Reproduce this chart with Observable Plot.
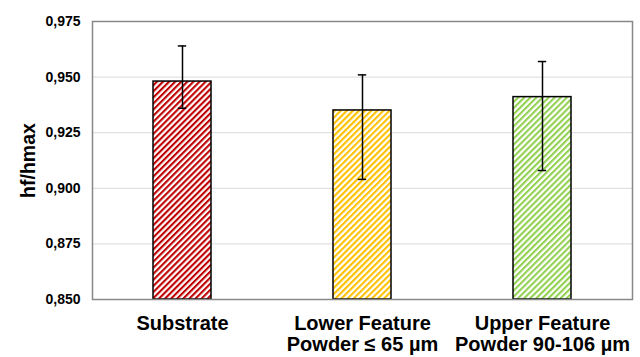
<!DOCTYPE html>
<html><head>
<meta charset="utf-8">
<script src="https://cdn.jsdelivr.net/npm/d3@7"></script>
<script src="https://cdn.jsdelivr.net/npm/@observablehq/plot@0.6"></script>
<style>body{margin:0;background:#fff}</style>
</head><body><div id="chart"></div>
<script>
const categories = ["Substrate", "Lower Feature\nPowder ≤ 65 µm", "Upper Feature\nPowder 90-106 µm"];
const values = [0.948, 0.935, 0.941];
const errLow = [0.936, 0.904, 0.908];
const errHigh = [0.964, 0.951, 0.957];
const colors = ["#C00000", "#FFC000", "#92D050"];
const yTicks = [0.85, 0.875, 0.9, 0.925, 0.95, 0.975];
const yLabel = "hf/hmax";

const data = categories.map((c, i) => ({cat: c, v: values[i], lo: errLow[i], hi: errHigh[i], pat: `url(#hatch${i})`}));

const defs = () => {
  const g = d3.create("svg:defs");
  colors.forEach((col, i) => {
    const p = g.append("pattern").attr("id", `hatch${i}`).attr("patternUnits", "userSpaceOnUse")
      .attr("width", 4.3).attr("height", 10).attr("patternTransform", "rotate(45)");
    p.append("rect").attr("width", 4.3).attr("height", 10).attr("fill", "white");
    p.append("rect").attr("width", 2.1).attr("height", 10).attr("fill", col);
  });
  return g.node();
};

const fmt = d => d3.format(".3f")(d).replace(".", ",");

const chart = Plot.plot({
  width: 640, height: 357,
  marginLeft: 92, marginRight: 8, marginTop: 21, marginBottom: 58,
  style: {fontFamily: "'Liberation Sans', Arial, sans-serif", background: "white", color: "#000"},
  x: {domain: categories, paddingInner: 0.68, paddingOuter: 0.34, label: null},
  y: {domain: [0.85, 0.975], label: null},
  color: {type: "identity"},
  marks: [
    defs,
    Plot.gridY(yTicks, {stroke: "#d9d9d9", strokeOpacity: 1, strokeWidth: 1}),
    Plot.barY(data, {x: "cat", y1: 0.85, y2: "v", fill: "pat", stroke: "#000", strokeWidth: 1.5}),
    Plot.ruleX(data, {x: "cat", y1: "lo", y2: "hi", stroke: "#000", strokeWidth: 1.5}),
    Plot.tickY(data, {x: "cat", y: "lo", stroke: "#000", strokeWidth: 1.5, insetLeft: 24.8, insetRight: 24.8}),
    Plot.tickY(data, {x: "cat", y: "hi", stroke: "#000", strokeWidth: 1.5, insetLeft: 24.8, insetRight: 24.8}),
    Plot.frame({stroke: "#888", strokeWidth: 1.5}),
    Plot.axisY({ticks: yTicks, tickFormat: fmt, tickSize: 0, tickPadding: 12, fontSize: 14, fontWeight: "bold", label: null}),
    Plot.axisX({tickSize: 0, tickPadding: 16, fontSize: 20, fontWeight: "bold", lineHeight: 1.05, label: null}),
    Plot.text([yLabel], {frameAnchor: "left", textAnchor: "middle", lineAnchor: "middle", dx: -64, rotate: -90, fontSize: 19.5, fontWeight: "bold"})
  ]
});
document.getElementById("chart").appendChild(chart);
</script>
</body></html>
